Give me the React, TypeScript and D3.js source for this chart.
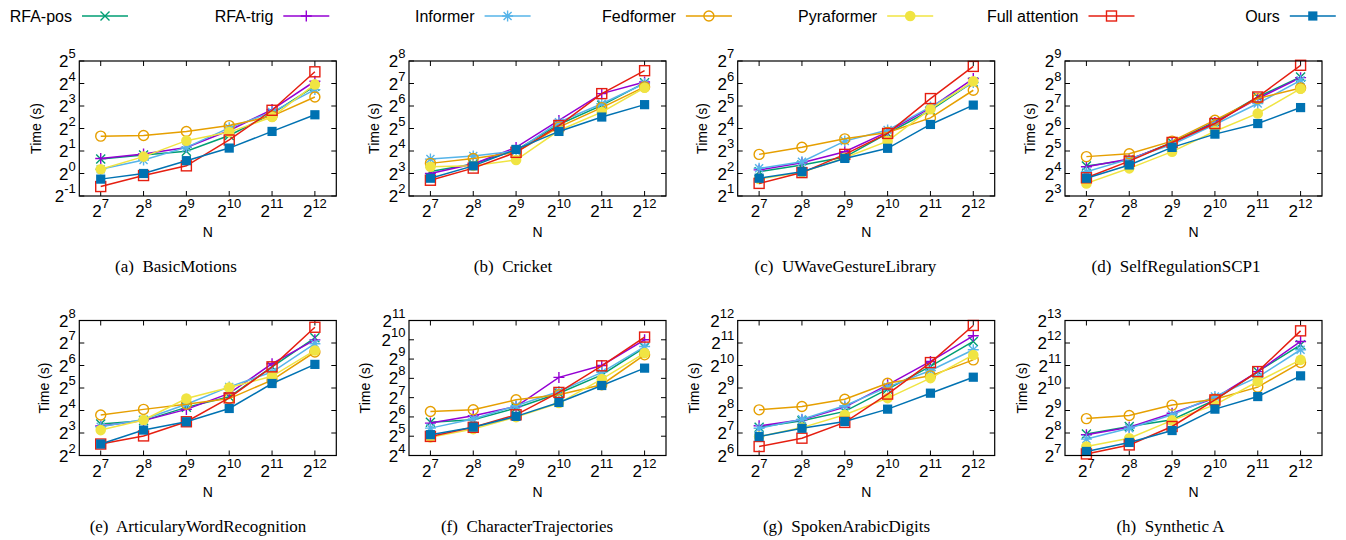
// Runtime vs. sequence length N for eight datasets, log2/log2 axes, gnuplot-style panels.
import React from 'react';
import * as d3 from 'd3';

const W = 1346;
const H = 540;

const xExps = [7, 8, 9, 10, 11, 12];
const seriesNames = ['RFA-pos', 'RFA-trig', 'Informer', 'Fedformer', 'Pyraformer', 'Full attention', 'Ours'];
const seriesColors = ['#009e73', '#9400d3', '#56b4e9', '#e69f00', '#f0e442', '#e51e10', '#0072b2'];
const seriesMarkers = ['cross', 'plus', 'star', 'circle', 'dot', 'square', 'box'];

// log2 of time (s), rows in seriesNames order, columns in xExps order
const basicMotions = [
  [0.64, 0.82, 0.99, 1.69, 2.66, 3.88],
  [0.67, 0.87, 1.16, 1.91, 2.84, 4.1],
  [0.19, 0.6, 1.16, 2.03, 2.73, 3.73],
  [1.66, 1.69, 1.87, 2.13, 2.55, 3.4],
  [0.19, 0.75, 1.46, 1.84, 2.51, 3.96],
  [-0.58, -0.09, 0.34, 1.49, 2.81, 4.52],
  [-0.25, 0.0, 0.57, 1.13, 1.87, 2.61],
];
const cricket = [
  [3.09, 3.42, 4.04, 5.18, 6.03, 7.03],
  [3.0, 3.42, 4.16, 5.36, 6.55, 7.07],
  [3.64, 3.78, 4.0, 5.28, 6.1, 7.0],
  [3.45, 3.67, 3.94, 5.06, 5.93, 6.85],
  [3.3, 3.34, 3.6, 4.91, 5.73, 6.81],
  [2.7, 3.24, 3.94, 5.13, 6.55, 7.57],
  [2.79, 3.34, 4.07, 4.87, 5.51, 6.06],
];
const uWave = [
  [2.08, 2.38, 2.73, 3.78, 4.81, 6.07],
  [2.16, 2.48, 2.97, 3.85, 4.92, 6.22],
  [2.23, 2.52, 3.44, 3.93, 4.96, 6.04],
  [2.85, 3.17, 3.54, 3.82, 4.47, 5.7],
  [1.76, 2.05, 2.7, 3.44, 4.86, 6.1],
  [1.56, 2.04, 2.85, 3.78, 5.33, 6.76],
  [1.79, 2.08, 2.67, 3.12, 4.18, 5.04],
];
const selfReg = [
  [4.33, 4.6, 5.38, 6.3, 7.4, 8.29],
  [4.3, 4.64, 5.34, 6.27, 7.33, 8.26],
  [4.08, 4.64, 5.29, 6.18, 7.11, 8.14],
  [4.75, 4.88, 5.44, 6.37, 7.33, 7.8],
  [3.56, 4.23, 4.97, 5.88, 6.67, 7.77],
  [3.81, 4.55, 5.38, 6.22, 7.4, 8.81],
  [3.79, 4.38, 5.16, 5.75, 6.22, 6.93],
];
const articulary = [
  [3.4, 3.55, 4.14, 4.61, 5.94, 7.23],
  [3.31, 3.55, 4.05, 4.76, 6.08, 7.14],
  [3.28, 3.6, 4.28, 5.05, 5.71, 6.97],
  [3.8, 4.05, 4.28, 4.53, 5.35, 6.6],
  [3.13, 3.58, 4.53, 5.02, 5.52, 6.67],
  [2.51, 2.87, 3.5, 4.56, 5.94, 7.7],
  [2.51, 3.13, 3.5, 4.09, 5.2, 6.05],
];
const charTraj = [
  [5.73, 5.85, 6.46, 7.23, 8.18, 9.6],
  [5.68, 6.06, 6.54, 8.05, 8.67, 10.0],
  [5.42, 5.89, 6.58, 7.32, 8.31, 9.65],
  [6.28, 6.37, 6.89, 7.15, 7.67, 9.22],
  [4.94, 5.37, 5.99, 6.72, 7.96, 9.31],
  [4.99, 5.46, 6.11, 7.27, 8.65, 10.14],
  [5.08, 5.47, 6.03, 6.75, 7.63, 8.53],
];
const spoken = [
  [7.26, 7.54, 7.96, 8.95, 9.96, 11.07],
  [7.32, 7.59, 8.15, 9.14, 10.18, 11.32],
  [7.21, 7.61, 8.21, 9.04, 9.78, 10.7],
  [8.03, 8.18, 8.5, 9.21, 9.54, 10.25],
  [6.84, 7.24, 7.81, 8.55, 9.44, 10.47],
  [6.4, 6.77, 7.47, 8.73, 10.13, 11.78],
  [6.84, 7.21, 7.51, 8.06, 8.77, 9.48],
];
const synthA = [
  [7.96, 8.29, 8.59, 9.47, 10.73, 11.92],
  [7.92, 8.26, 8.88, 9.55, 10.73, 12.07],
  [7.73, 8.21, 8.81, 9.62, 10.48, 11.7],
  [8.64, 8.78, 9.24, 9.5, 10.04, 11.13],
  [7.4, 7.77, 8.56, 9.25, 10.29, 11.25],
  [7.07, 7.47, 8.29, 9.47, 10.73, 12.54],
  [7.18, 7.58, 8.11, 9.06, 9.62, 10.54],
];

const BOX_W = 257;
const COL_LEFT = [79.3, 409, 737.7, 1065];
const ROW_TOP = [61, 320.5];
const BOX_H = 135;

const panels = [
  { cap: '(a)', name: 'BasicMotions', data: basicMotions, y: [-1, 5], col: 0, row: 0, capX: 176, labOff: 43.5 },
  { cap: '(b)', name: 'Cricket', data: cricket, y: [2, 8], col: 1, row: 0, capX: 513, labOff: 35.5 },
  { cap: '(c)', name: 'UWaveGestureLibrary', data: uWave, y: [1, 7], col: 2, row: 0, capX: 845.5, labOff: 35.5 },
  { cap: '(d)', name: 'SelfRegulationSCP1', data: selfReg, y: [3, 9], col: 3, row: 0, capX: 1176, labOff: 35.5 },
  { cap: '(e)', name: 'ArticularyWordRecognition', data: articulary, y: [2, 8], col: 0, row: 1, capX: 198, labOff: 35.5 },
  { cap: '(f)', name: 'CharacterTrajectories', data: charTraj, y: [4, 11], col: 1, row: 1, capX: 527, labOff: 44 },
  { cap: '(g)', name: 'SpokenArabicDigits', data: spoken, y: [6, 12], col: 2, row: 1, capX: 846.5, labOff: 43.7 },
  { cap: '(h)', name: 'Synthetic A', data: synthA, y: [7, 13], col: 3, row: 1, capX: 1170.5, labOff: 43.3 },
];

const SANS = '"Liberation Sans", Arial, sans-serif';
const SERIF = '"Liberation Serif", "Times New Roman", serif';

function Marker({ kind, x, y, color }: { kind: string; x: number; y: number; color: string }) {
  const sw = 1.4;
  if (kind === 'cross') {
    const s = 4.5;
    return (
      <path d={`M${x - s},${y - s}L${x + s},${y + s}M${x - s},${y + s}L${x + s},${y - s}`} stroke={color} strokeWidth={sw} />
    );
  }
  if (kind === 'plus') {
    const s = 5.5;
    return <path d={`M${x - s},${y}L${x + s},${y}M${x},${y - s}L${x},${y + s}`} stroke={color} strokeWidth={sw} />;
  }
  if (kind === 'star') {
    const s = 5.5;
    const d = 4;
    return (
      <path
        d={`M${x - s},${y}L${x + s},${y}M${x},${y - s}L${x},${y + s}M${x - d},${y - d}L${x + d},${y + d}M${x - d},${y + d}L${x + d},${y - d}`}
        stroke={color}
        strokeWidth={sw}
      />
    );
  }
  if (kind === 'circle') return <circle cx={x} cy={y} r={5} fill="none" stroke={color} strokeWidth={sw} />;
  if (kind === 'dot') return <circle cx={x} cy={y} r={5.3} fill={color} />;
  if (kind === 'square')
    return <rect x={x - 5} y={y - 5} width={10} height={10} fill="none" stroke={color} strokeWidth={sw} />;
  return <rect x={x - 4.6} y={y - 4.6} width={9.2} height={9.2} fill={color} />;
}

function Panel({ p }: { p: (typeof panels)[number] }) {
  const left = COL_LEFT[p.col];
  const top = ROW_TOP[p.row];
  const bottom = top + BOX_H;
  const right = left + BOX_W;
  const x = d3.scaleLinear().domain([6.5, 12.5]).range([left, right]);
  const y = d3.scaleLinear().domain(p.y).range([bottom, top]);
  const yTicks = d3.range(p.y[0], p.y[1] + 1);
  const line = d3
    .line<number>()
    .x((_, i) => x(xExps[i]))
    .y((v) => y(v));
  const tk = 5;
  return (
    <g>
      {/* ticks */}
      {xExps.map((e) => (
        <g key={'xt' + e}>
          <line x1={x(e)} x2={x(e)} y1={bottom} y2={bottom - tk} stroke="#000" />
          <line x1={x(e)} x2={x(e)} y1={top} y2={top + tk} stroke="#000" />
          <text x={x(e)} y={bottom + 21} textAnchor="middle" fontFamily={SANS}>
            <tspan fontSize={17}>2</tspan>
            <tspan fontSize={13} dy={-9}>
              {e}
            </tspan>
          </text>
        </g>
      ))}
      {yTicks.map((e) => (
        <g key={'yt' + e}>
          <line x1={left} x2={left + tk} y1={y(e)} y2={y(e)} stroke="#000" />
          <line x1={right} x2={right - tk} y1={y(e)} y2={y(e)} stroke="#000" />
          <text x={left - 3.5} y={y(e) + 6} textAnchor="end" fontFamily={SANS}>
            <tspan fontSize={17}>2</tspan>
            <tspan fontSize={13} dy={-9}>
              {e < 0 ? '-' + Math.abs(e) : e}
            </tspan>
          </text>
        </g>
      ))}
      {/* series */}
      {p.data.map((vals, si) => (
        <g key={seriesNames[si]}>
          <path d={line(vals) || ''} fill="none" stroke={seriesColors[si]} strokeWidth={1.5} />
          {vals.map((v, i) => (
            <Marker key={i} kind={seriesMarkers[si]} x={x(xExps[i])} y={y(v)} color={seriesColors[si]} />
          ))}
        </g>
      ))}
      <rect x={left} y={top} width={BOX_W} height={BOX_H} fill="none" stroke="#000" strokeWidth={1.2} />
      {/* axis labels */}
      <text
        transform={`translate(${left - p.labOff},${(top + bottom) / 2}) rotate(-90)`}
        textAnchor="middle"
        dominantBaseline="central"
        fontFamily={SANS}
        fontSize={14}
      >
        Time (s)
      </text>
      <text x={(left + right) / 2} y={bottom + 41} textAnchor="middle" fontFamily={SANS} fontSize={14}>
        N
      </text>
      <text x={p.capX} y={bottom + 76} textAnchor="middle" fontFamily={SERIF} fontSize={17}>
        {p.cap + '\u00a0 ' + p.name}
      </text>
    </g>
  );
}

function Legend() {
  return (
    <g>
      {seriesNames.map((n, i) => {
        const end = 128 + i * 201.3;
        const start = end - 46;
        const cy = 16;
        return (
          <g key={n}>
            <text x={start - 10} y={cy + 5.5} textAnchor="end" fontFamily={SANS} fontSize={16}>
              {n}
            </text>
            <line x1={start} x2={end} y1={cy} y2={cy} stroke={seriesColors[i]} strokeWidth={1.5} />
            <Marker kind={seriesMarkers[i]} x={(start + end) / 2} y={cy} color={seriesColors[i]} />
          </g>
        );
      })}
    </g>
  );
}

export default function App() {
  return (
    <svg
      width={W}
      height={H}
      style={{ position: 'absolute', left: 0, top: 0, background: '#fff' }}
    >
      <rect width={W} height={H} fill="#fff" />
      <Legend />
      {panels.map((p) => (
        <Panel key={p.cap} p={p} />
      ))}
    </svg>
  );
}
